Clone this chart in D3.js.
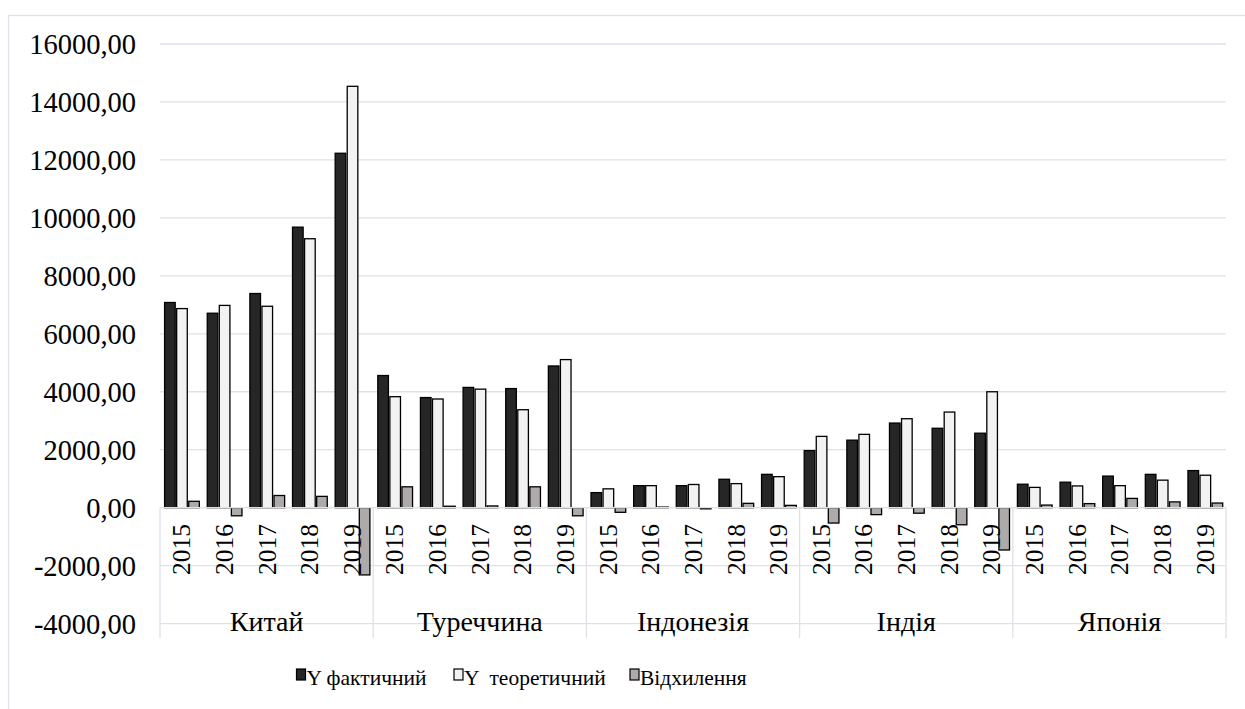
<!DOCTYPE html>
<html>
<head>
<meta charset="utf-8">
<script src="https://cdn.jsdelivr.net/npm/d3@7"></script>
<style>
  body { margin: 0; background: #fff; }
</style>
</head>
<body>
<script>
// data
let countries = ['Китай', 'Туреччина', 'Індонезія', 'Індія', 'Японія'];
let years = ['2015', '2016', '2017', '2018', '2019'];
let seriesNames = ['Y фактичний', 'Y  теоретичний', 'Відхилення'];
let yActual = [7080, 6710, 7390, 9680, 12230,  4560, 3800, 4150, 4110, 4890,
               520, 760, 760, 980, 1150,  1970, 2330, 2920, 2740, 2570,
               810, 880, 1090, 1150, 1280];
let yTheor = [6870, 6980, 6950, 9280, 14540,  3830, 3750, 4090, 3380, 5110,
              650, 760, 800, 830, 1070,  2460, 2530, 3070, 3300, 4000,
              700, 750, 760, 950, 1120];
let deviation = [220, -280, 420, 390, -2320,  720, 50, 60, 720, -280,
                 -160, 20, -40, 150, 80,  -530, -240, -190, -590, -1460,
                 90, 140, 320, 200, 160];
let yTicks = [-4000, -2000, 0, 2000, 4000, 6000, 8000, 10000, 12000, 14000, 16000];
let colors = ['#262626', '#f2f2f2', '#aeaaaa'];

let W = 1245, H = 709;
let plotL = 160, plotR = 1226, plotT = 44, plotB = 623.6;
let grid = '#dde1e8';
let font = "'Liberation Serif', 'Times New Roman', 'Liberation Sans', sans-serif";

let svg = d3.select('body').append('svg').attr('width', W).attr('height', H)
  .style('font-family', font);

// outer frame
svg.append('rect').attr('x', 8.5).attr('y', 15.5).attr('width', W).attr('height', H)
  .attr('fill', 'none').attr('stroke', grid).attr('stroke-width', 1.3);

let y = d3.scaleLinear().domain([-4000, 16000]).range([plotB, plotT]);
let xC = d3.scaleBand().domain(countries).range([plotL, plotR]);
let xY = d3.scaleBand().domain(years).range([0, xC.bandwidth()]);
let xS = d3.scaleBand().domain([0, 1, 2]).range([4.6, xY.bandwidth() - 3.3]).paddingInner(0.12);

// gridlines
svg.selectAll('.grid').data(yTicks).enter().append('line')
  .attr('x1', plotL).attr('x2', plotR)
  .attr('y1', d => y(d)).attr('y2', d => y(d))
  .attr('stroke', grid).attr('stroke-width', 1.3);

// y labels
let fmt = d3.format('.2f');
svg.selectAll('.ylab').data(yTicks).enter().append('text')
  .attr('x', 136).attr('y', d => y(d)).attr('dy', '0.35em')
  .attr('text-anchor', 'end').attr('font-size', '28.5px')
  .attr('font-family', font)
  .text(d => fmt(d).replace('.', ',').replace('\u2212', '-'));

// category axis separators
let seps = countries.map(c => xC(c)).concat([plotR]);
svg.selectAll('.sep').data(seps).enter().append('line')
  .attr('x1', d => d).attr('x2', d => d)
  .attr('y1', y(0)).attr('y2', 638)
  .attr('stroke', grid).attr('stroke-width', 1.3);

// bars
let rows = [];
countries.forEach((c, ci) => {
  years.forEach((yr, yi) => {
    let i = ci * 5 + yi;
    [yActual[i], yTheor[i], deviation[i]].forEach((v, s) => {
      rows.push({c: c, yr: yr, s: s, v: v});
    });
  });
});
svg.selectAll('.bar').data(rows).enter().append('rect')
  .attr('x', d => xC(d.c) + xY(d.yr) + xS(d.s))
  .attr('width', xS.bandwidth())
  .attr('y', d => y(Math.max(0, d.v)))
  .attr('height', d => Math.abs(y(d.v) - y(0)))
  .attr('fill', d => colors[d.s])
  .attr('stroke', '#000').attr('stroke-width', 1.3);

// zero axis line
svg.append('line').attr('x1', plotL).attr('x2', plotR)
  .attr('y1', y(0)).attr('y2', y(0))
  .attr('stroke', grid).attr('stroke-width', 1.3);

// year labels, rotated
let yearCells = [];
countries.forEach(c => years.forEach(yr => yearCells.push({c: c, yr: yr})));
svg.selectAll('.yr').data(yearCells).enter().append('text')
  .attr('transform', d => 'translate(' + (xC(d.c) + xY(d.yr) + xY.bandwidth() / 2) + ',524) rotate(-90)')
  .attr('text-anchor', 'end').attr('dy', '0.35em')
  .attr('font-size', '25.5px').attr('font-family', font)
  .text(d => d.yr);

// country labels
svg.selectAll('.cat').data(countries).enter().append('text')
  .attr('x', d => xC(d) + xC.bandwidth() / 2).attr('y', 631)
  .attr('text-anchor', 'middle').attr('font-size', '28px')
  .attr('font-family', font)
  .text(d => d);

// legend
let legX = [296.5, 454, 630];
let leg = svg.selectAll('.leg').data(seriesNames).enter().append('g')
  .attr('transform', (d, i) => 'translate(' + legX[i] + ',669)');
leg.append('rect').attr('width', 9).attr('height', 11)
  .attr('fill', (d, i) => colors[i]).attr('stroke', '#000').attr('stroke-width', 1.2);
leg.append('text').attr('x', 10).attr('y', 16)
  .attr('font-size', '21.5px').attr('font-family', font)
  .style('white-space', 'pre')
  .text(d => d);
</script>
</body>
</html>
